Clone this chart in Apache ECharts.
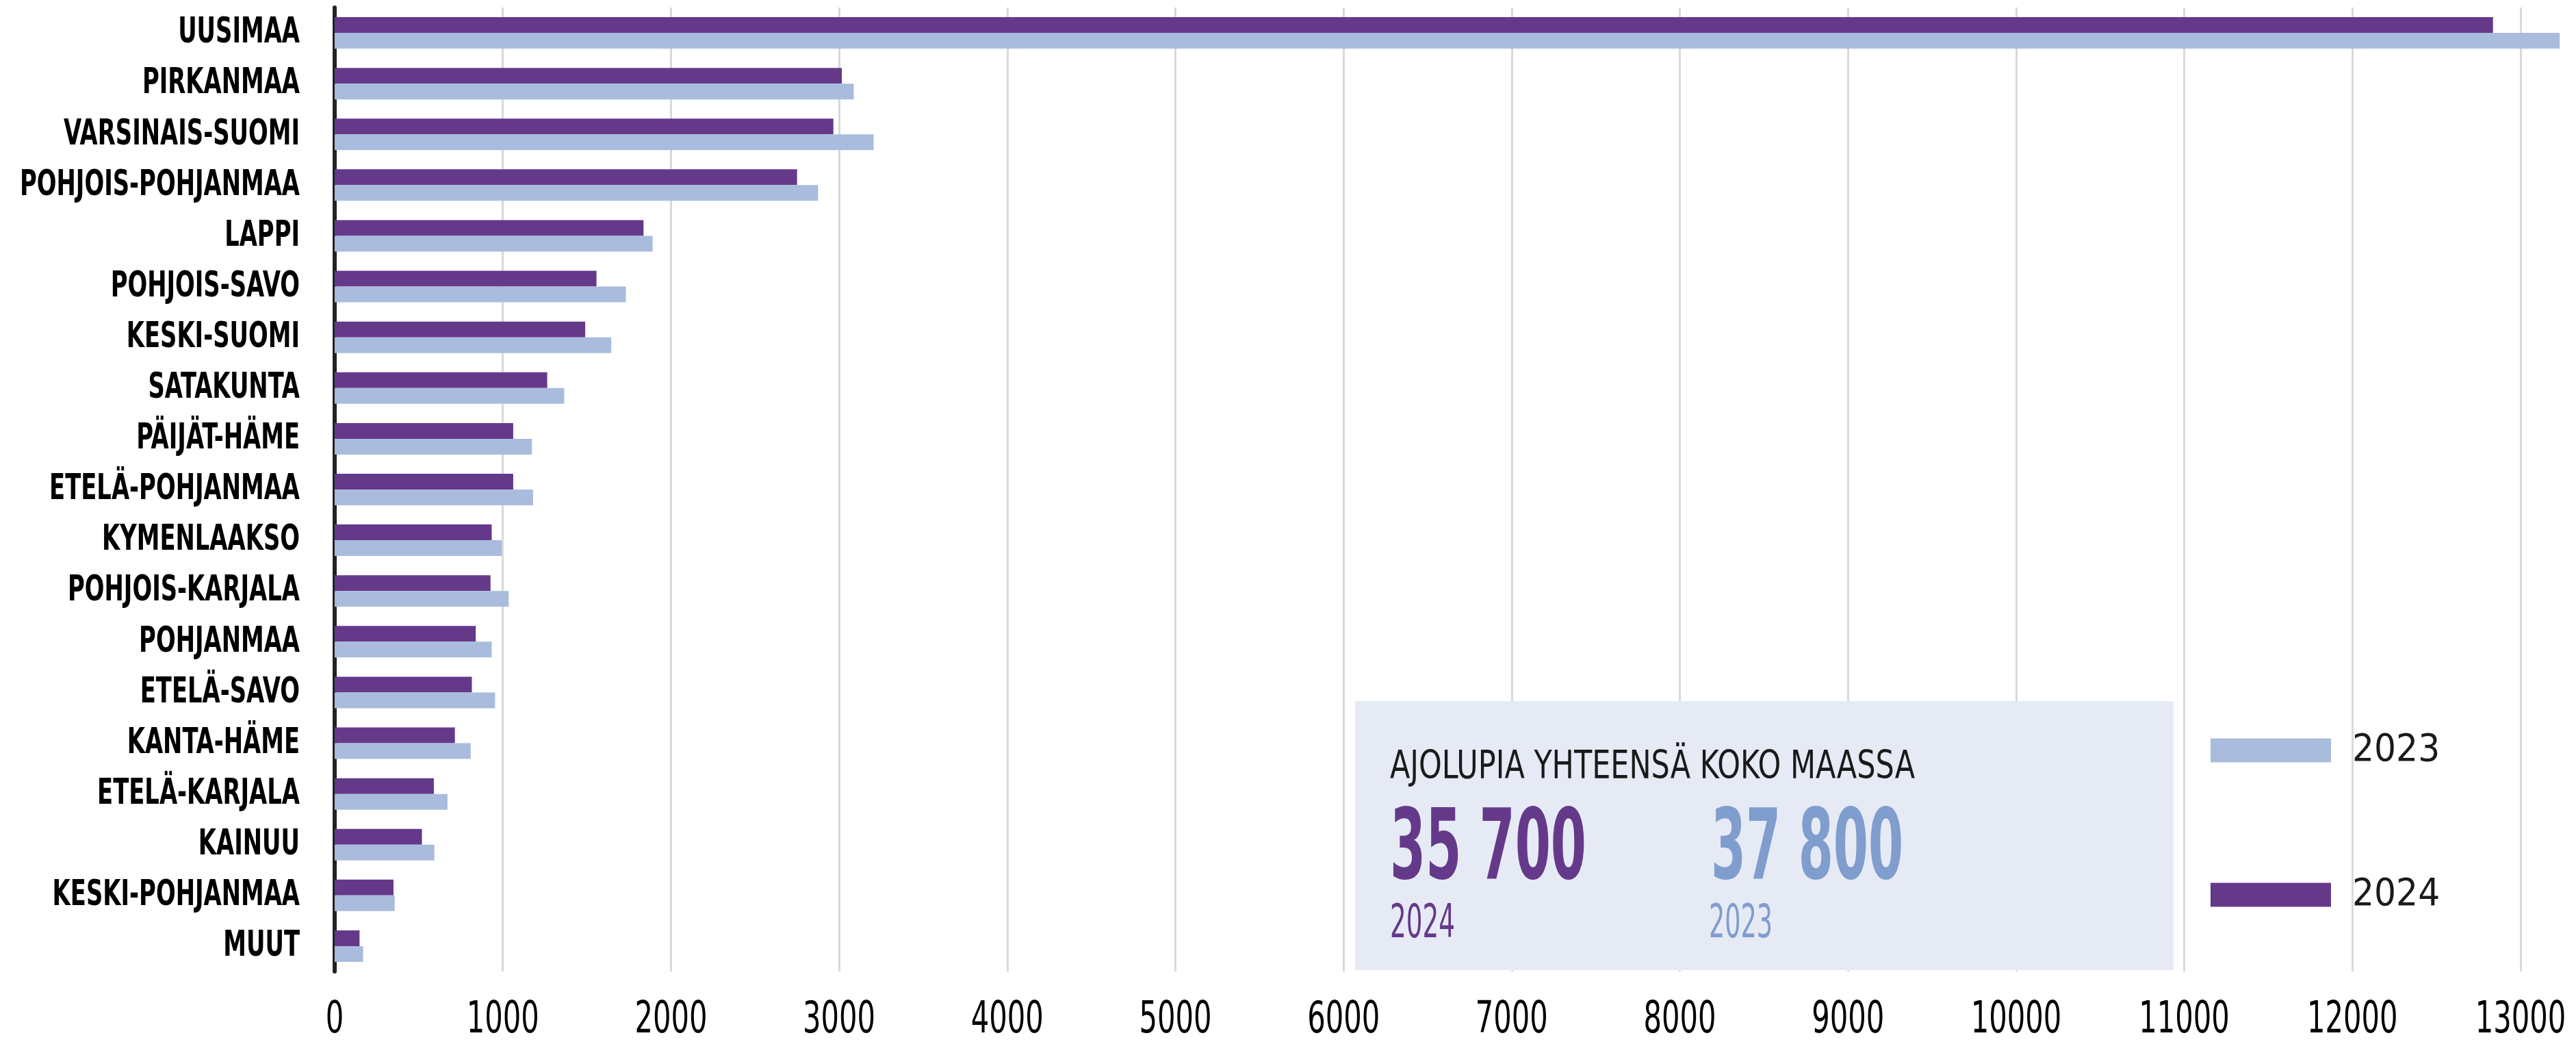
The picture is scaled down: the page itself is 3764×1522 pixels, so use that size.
<!DOCTYPE html>
<html><head><meta charset="utf-8">
<script src="https://cdn.jsdelivr.net/npm/echarts@6/dist/echarts.min.js"></script>
<style>html,body{margin:0;padding:0;background:#fff}#c{width:3764px;height:1522px}</style>
</head><body><div id="c"></div>
<script>
const categories = ['UUSIMAA','PIRKANMAA','VARSINAIS-SUOMI','POHJOIS-POHJANMAA','LAPPI','POHJOIS-SAVO','KESKI-SUOMI','SATAKUNTA','PÄIJÄT-HÄME','ETELÄ-POHJANMAA','KYMENLAAKSO','POHJOIS-KARJALA','POHJANMAA','ETELÄ-SAVO','KANTA-HÄME','ETELÄ-KARJALA','KAINUU','KESKI-POHJANMAA','MUUT'];
const values2024 = [12836,3016,2966,2750,1837,1557,1490,1264,1062,1062,934,927,839,816,715,590,519,350,148];
const values2023 = [13233,3087,3205,2875,1891,1732,1645,1365,1173,1180,994,1035,934,954,809,671,593,357,169];
const seriesNames = ['2024','2023'];
const legendOrder = ['2023','2024'];
const xTickValues = [0,1000,2000,3000,4000,5000,6000,7000,8000,9000,10000,11000,12000,13000];
const totalTitle = 'AJOLUPIA YHTEENSÄ KOKO MAASSA';
const totalValues = ['35 700','37 800'];
const totalYears = ['2024','2023'];
const xMin = 0, xMax = 13000, xInterval = 1000;

const NARROW = "'DejaVu Sans Condensed','Liberation Sans Narrow',sans-serif";
const PURPLE = '#65398A', LIGHT = '#A9BCDD', LIGHTTXT = '#7F9DCD';

const mctx = document.createElement('canvas').getContext('2d');
function measure(text, font){ mctx.font = font; return mctx.measureText(text).width; }
function fitScale(text, font, target){ return target / measure(text, font); }
function txt(text, x, yc, font, fill, targetW){
  return { type:'text', x:x, y:yc, z:5, scaleX: fitScale(text,font,targetW), scaleY:1, originX:0, originY:0,
    style:{ text:text, font:font, fill:fill, textAlign:'left', textVerticalAlign:'middle', align:'left', verticalAlign:'middle' } };
}

// label fonts, condensed horizontally to mimic the narrow typeface
const CAT_FONT = 'bold 51px ' + NARROW;
const longestCat = categories.reduce((a,b)=> measure(b,CAT_FONT) > measure(a,CAT_FONT) ? b : a);
const catScale = 409 / measure(longestCat, CAT_FONT);
const TICK_FONT = '64px ' + NARROW;
const tickScale = 106 / measure(String(xTickValues[1]), TICK_FONT);

const chart = echarts.init(document.getElementById('c'));
const legendBase = { orient:'vertical', left:3230, padding:0, itemWidth:176, itemHeight:35, icon:'rect',
  textStyle:{ fontFamily:NARROW, fontSize:56, color:'#1a1a1a', padding:[0,0,0,26] } };
chart.setOption({
  animation:false,
  backgroundColor:'#fff',
  grid:{ left:489, right:81, top:11, bottom:103, containLabel:false, outerBoundsMode:'none' },
  xAxis:{ type:'value', min:xMin, max:xMax, interval:xInterval,
    axisLine:{show:false}, axisTick:{show:false},
    splitLine:{ show:true, lineStyle:{ color:'#d9d9d9', width:3 } },
    axisLabel:{ show:false } },
  yAxis:{ type:'category', inverse:true, data:categories,
    axisLine:{ show:true, lineStyle:{ color:'#222', width:6 } }, axisTick:{show:false},
    axisLabel:{ show:false } },
  legend:[ Object.assign({}, legendBase, { data:[legendOrder[0]], top:1068 }),
           Object.assign({}, legendBase, { data:[legendOrder[1]], top:1279 }) ],
  series:[
    { name:seriesNames[0], type:'bar', data:values2024, barWidth:23, barGap:'0%', clip:false, itemStyle:{ color:PURPLE } },
    { name:seriesNames[1], type:'bar', data:values2023, barWidth:23, barGap:'0%', clip:false, itemStyle:{ color:LIGHT } },
    { name:'catLabels', type:'custom', clip:false, silent:true, data:categories.map((c,i)=>[0,i]),
      renderItem:function(params, api){
        const p = api.coord([0, params.dataIndex]);
        return { type:'text', x:p[0]-51, y:p[1]+1, scaleX:catScale, originX:0, originY:0,
          style:{ text:categories[params.dataIndex], font:CAT_FONT, fill:'#000', align:'right', verticalAlign:'middle' } };
      } },
    { name:'tickLabels', type:'custom', clip:false, silent:true, data:xTickValues.map(v=>[v,0]),
      renderItem:function(params, api){
        const v = xTickValues[params.dataIndex];
        const p = api.coord([v, categories.length-1]);
        const band = api.size([0,1])[1];
        return { type:'text', x:p[0], y:p[1]+band/2+72, scaleX:tickScale, originX:0, originY:0,
          style:{ text:String(v), font:TICK_FONT, fill:'#000', align:'center', verticalAlign:'middle' } };
      } }
  ],
  graphic:[
    { type:'rect', z:1, shape:{ x:1980, y:1024, width:1196, height:393 }, style:{ fill:'#E6EAF5' } },
    txt(totalTitle, 2031, 1122, '500 57px '+NARROW, '#1a1a1a', 767),
    txt(totalValues[0], 2031, 1246, 'bold 142px '+NARROW, PURPLE, 287),
    txt(totalValues[1], 2500, 1246, 'bold 142px '+NARROW, LIGHTTXT, 281),
    txt(totalYears[0], 2031, 1352, '500 67px '+NARROW, PURPLE, 95),
    txt(totalYears[1], 2497, 1352, '500 67px '+NARROW, LIGHTTXT, 93)
  ]
});
</script></body></html>
